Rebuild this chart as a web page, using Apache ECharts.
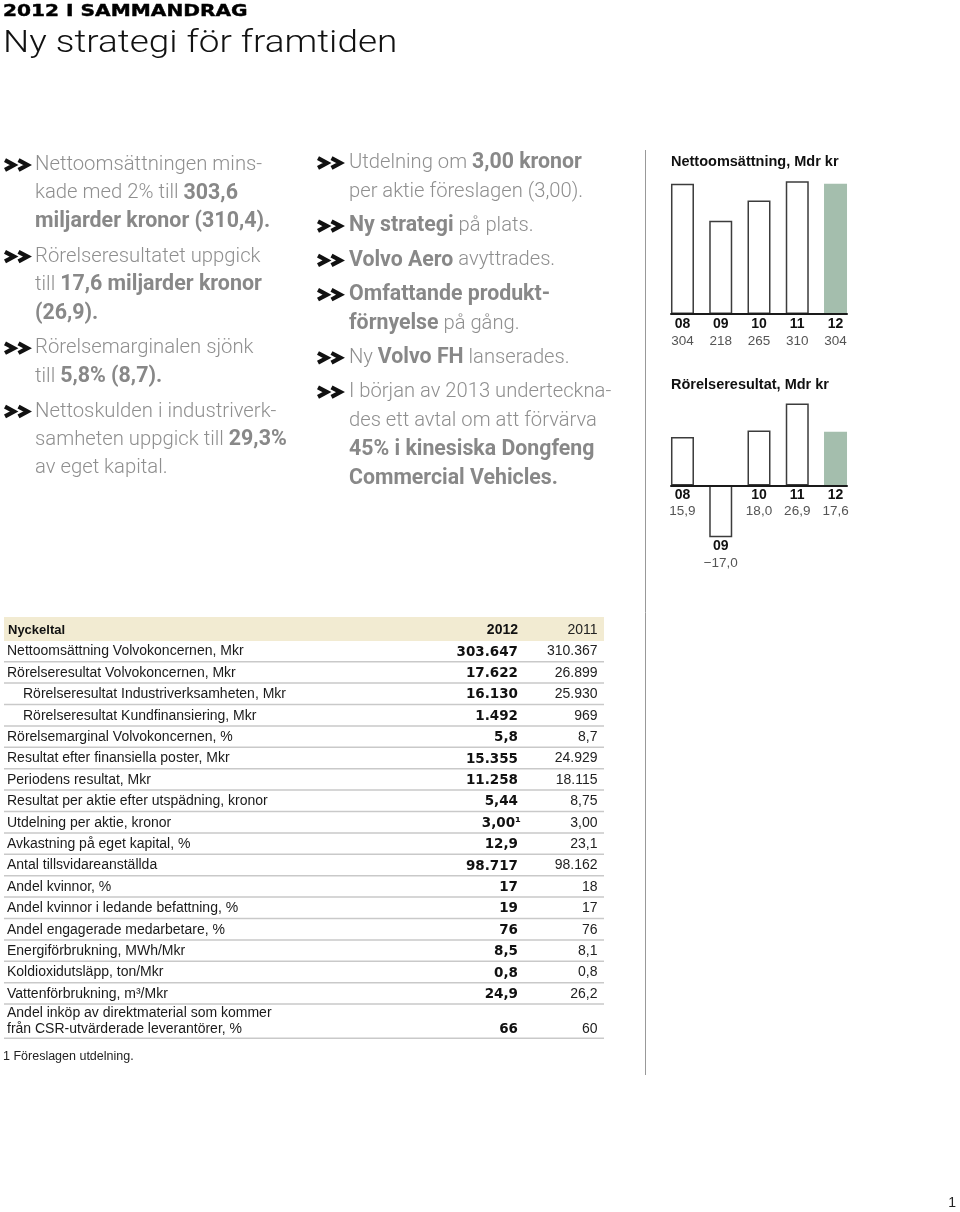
<!DOCTYPE html>
<html><head><meta charset="utf-8">
<script src="https://cdn.jsdelivr.net/npm/echarts@6/dist/echarts.min.js"></script>
<style>html,body{margin:0;padding:0;background:#fff}#c{width:960px;height:1212px}</style>
</head><body><div id="c"></div>
<script>
// ---- data ----
const years = ['08', '09', '10', '11', '12'];
const salesBn = [304, 218, 265, 310, 304];          // Nettoomsättning, Mdr kr
const ebitBn = [15.9, -17.0, 18.0, 26.9, 17.6];     // Rörelseresultat, Mdr kr

const pageKicker = '2012 I SAMMANDRAG';
const pageTitle = 'Ny strategi för framtiden';
const chartTitles = ['Nettoomsättning, Mdr kr', 'Rörelseresultat, Mdr kr'];

const leftBullets = [
  ['Nettoomsättningen mins-', 'kade med 2% till {b|303,6}', '{b|miljarder kronor (310,4).}'],
  ['Rörelseresultatet uppgick', 'till {b|17,6 miljarder kronor}', '{b|(26,9).}'],
  ['Rörelsemarginalen sjönk', 'till {b|5,8% (8,7).}'],
  ['Nettoskulden i industriverk-', 'samheten uppgick till {b|29,3%}', 'av eget kapital.']
];
const midBullets = [
  ['Utdelning om {b|3,00 kronor}', 'per aktie föreslagen (3,00).'],
  ['{b|Ny strategi} på plats.'],
  ['{b|Volvo Aero} avyttrades.'],
  ['{b|Omfattande produkt-}', '{b|förnyelse} på gång.'],
  ['Ny {b|Volvo FH} lanserades.'],
  ['I början av 2013 underteckna-', 'des ett avtal om att förvärva', '{b|45% i kinesiska Dongfeng}', '{b|Commercial Vehicles.}']
];

const tableHeader = ['Nyckeltal', '2012', '2011'];
const tableLabels = [
  'Nettoomsättning Volvokoncernen, Mkr',
  'Rörelseresultat Volvokoncernen, Mkr',
  'Rörelseresultat Industriverksamheten, Mkr',
  'Rörelseresultat Kundfinansiering, Mkr',
  'Rörelsemarginal Volvokoncernen, %',
  'Resultat efter finansiella poster, Mkr',
  'Periodens resultat, Mkr',
  'Resultat per aktie efter utspädning, kronor',
  'Utdelning per aktie, kronor',
  'Avkastning på eget kapital, %',
  'Antal tillsvidareanställda',
  'Andel kvinnor, %',
  'Andel kvinnor i ledande befattning, %',
  'Andel engagerade medarbetare, %',
  'Energiförbrukning, MWh/Mkr',
  'Koldioxidutsläpp, ton/Mkr',
  'Vattenförbrukning, m³/Mkr',
  'Andel inköp av direktmaterial som kommer\nfrån CSR-utvärderade leverantörer, %'
];
const tableIndent = [0, 0, 1, 1, 0, 0, 0, 0, 0, 0, 0, 0, 0, 0, 0, 0, 0, 0];
const values2012 = ['303.647', '17.622', '16.130', '1.492', '5,8', '15.355', '11.258', '5,44', '3,00¹', '12,9', '98.717', '17', '19', '76', '8,5', '0,8', '24,9', '66'];
const values2011 = ['310.367', '26.899', '25.930', '969', '8,7', '24.929', '18.115', '8,75', '3,00', '23,1', '98.162', '18', '17', '76', '8,1', '0,8', '26,2', '60'];
const footnote = '1 Föreslagen utdelning.';
const pageNumber = '1';

// ---- build ----
const FF = '"Liberation Sans", Arial, sans-serif';
const GRAY = '#8f8f8f';
const GRAYB = '#888888';
const g = [];

g.push({type: 'text', x: 3, y: 11.7, scaleX: 1.3, style: {text: pageKicker, font: 'bold 15.5px "DejaVu Sans"', fill: '#000', stroke: '#000', lineWidth: 0.4, verticalAlign: 'middle'}});
g.push({type: 'text', x: 3, y: 44, scaleX: 1.19, style: {text: pageTitle, font: '300 31px Roboto, ' + FF, fill: '#111', verticalAlign: 'middle'}});

function chevron(x, y) {
  const pts = d => [[x + d, y - 4.8], [x + d + 9, y], [x + d, y + 4.8]];
  g.push({type: 'polyline', shape: {points: pts(2)}, style: {stroke: '#111', lineWidth: 4.2, fill: null, lineJoin: 'miter'}});
  g.push({type: 'polyline', shape: {points: pts(15.5)}, style: {stroke: '#111', lineWidth: 4.2, fill: null, lineJoin: 'miter'}});
}
function bullets(list, x0, tx, y0, pitch, gap, size) {
  let y = y0;
  list.forEach(lines => {
    chevron(x0, y);
    lines.forEach(t => {
      g.push({type: 'text', x: tx, y: y, style: {text: t, font: '300 ' + size + 'px Roboto, ' + FF, fill: GRAY, verticalAlign: 'middle',
        rich: {b: {fontFamily: 'Roboto', fontWeight: 'bold', fontSize: size * 1.055, fill: GRAYB}}}});
      y += pitch;
    });
    y += gap;
  });
}
bullets(leftBullets, 3, 35, 165, 28.3, 6.7, 20.3);
bullets(midBullets, 316, 349, 163, 28.8, 5.5, 20.2);

// separator line
g.push({type: 'line', shape: {x1: 645.5, y1: 150, x2: 645.5, y2: 1075}, style: {stroke: '#999', lineWidth: 1}});

// table
const TL = 4, TR = 604, C1 = 518, C2 = 597.5;
g.push({type: 'rect', shape: {x: TL, y: 617, width: TR - TL, height: 24}, style: {fill: '#f2ebd2'}});
g.push({type: 'text', x: 8, y: 630, style: {text: tableHeader[0], font: 'bold 13px ' + FF, fill: '#111', verticalAlign: 'middle'}});
g.push({type: 'text', x: C1, y: 630, style: {text: tableHeader[1], font: 'bold 14px ' + FF, fill: '#111', verticalAlign: 'middle', align: 'right'}});
g.push({type: 'text', x: C2, y: 630, style: {text: tableHeader[2], font: '14px ' + FF, fill: '#222', verticalAlign: 'middle', align: 'right'}});
const pitch = 21.4;
tableLabels.forEach((lab, i) => {
  const twoLine = lab.indexOf('\n') >= 0;
  const sep = twoLine ? 1038.3 : 661.7 + i * pitch;
  const cy = twoLine ? 1029 : sep - 10.2;
  g.push({type: 'text', x: tableIndent[i] ? 23 : 7, y: twoLine ? 1021.2 : cy,
    style: {text: lab, font: '14px ' + FF, fill: '#1a1a1a', verticalAlign: 'middle', lineHeight: 15.5}});
  g.push({type: 'text', x: C1 + (values2012[i].indexOf('¹') >= 0 ? 3 : 0), y: cy + 0.5, style: {text: values2012[i], font: 'bold 13.5px "DejaVu Sans"', fill: '#111', verticalAlign: 'middle', align: 'right'}});
  g.push({type: 'text', x: C2, y: cy, style: {text: values2011[i], font: '14px ' + FF, fill: '#222', verticalAlign: 'middle', align: 'right'}});
  g.push({type: 'line', shape: {x1: TL, y1: sep, x2: TR, y2: sep}, style: {stroke: '#c9c9c9', lineWidth: 1.5}});
});
g.push({type: 'text', x: 3, y: 1057, style: {text: footnote, font: '12.5px ' + FF, fill: '#222', verticalAlign: 'middle'}});
g.push({type: 'text', x: 956, y: 1203, style: {text: pageNumber, font: '14px ' + FF, fill: '#222', verticalAlign: 'middle', align: 'right'}});

const fmt1 = v => String(v);
const fmt2 = v => (v < 0 ? '−' : '') + Math.abs(v).toFixed(1).replace('.', ',');
function barSeries(vals, fmt, idx, lh) {
  return {
    type: 'bar', xAxisIndex: idx, yAxisIndex: idx, barWidth: 23, silent: true,
    data: vals.map((v, i) => ({value: [i, v], itemStyle: i === vals.length - 1
      ? {color: '#a4bead', borderColor: '#a4bead', borderWidth: 0}
      : {color: '#ffffff', borderColor: '#3c3c3c', borderWidth: 1.5}})),
    label: {show: true, position: 'bottom', distance: 1,
      formatter: p => '{y|' + years[p.dataIndex] + '}\n{v|' + fmt(vals[p.dataIndex]) + '}',
      rich: {y: {fontSize: 14, fontWeight: 'bold', color: '#111', lineHeight: lh, fontFamily: 'Liberation Sans'},
             v: {fontSize: 13.5, color: '#555', lineHeight: lh, fontFamily: 'Liberation Sans'}}}
  };
}
const xAx = i => ({type: 'value', gridIndex: i, min: -0.3, max: 4.3, z: 5,
  axisLine: {show: true, onZero: true, lineStyle: {color: '#1a1a1a', width: 2}},
  axisTick: {show: false}, axisLabel: {show: false}, splitLine: {show: false}});
const yAx = (i, mn, mx) => ({type: 'value', gridIndex: i, min: mn, max: mx, show: false, splitLine: {show: false}});

const chart = echarts.init(document.getElementById('c'), null, {renderer: 'canvas'});
chart.setOption({
  animation: false,
  textStyle: {fontFamily: 'Liberation Sans'},
  title: [
    {text: chartTitles[0], left: 671, top: 153, padding: 0, textStyle: {fontSize: 14.5, fontWeight: 'bold', color: '#111', lineHeight: 18}},
    {text: chartTitles[1], left: 671, top: 376, padding: 0, textStyle: {fontSize: 14.5, fontWeight: 'bold', color: '#111', lineHeight: 18}}
  ],
  grid: [
    {left: 671, width: 176, top: 177, height: 137},
    {left: 671, width: 176, top: 394, height: 152.5}
  ],
  xAxis: [xAx(0), xAx(1)],
  yAxis: [yAx(0, 0, 320), yAx(1, -20, 30)],
  series: [barSeries(salesBn, fmt1, 0, 17.5), barSeries(ebitBn, fmt2, 1, 16.5)],
  graphic: g
});
</script></body></html>
